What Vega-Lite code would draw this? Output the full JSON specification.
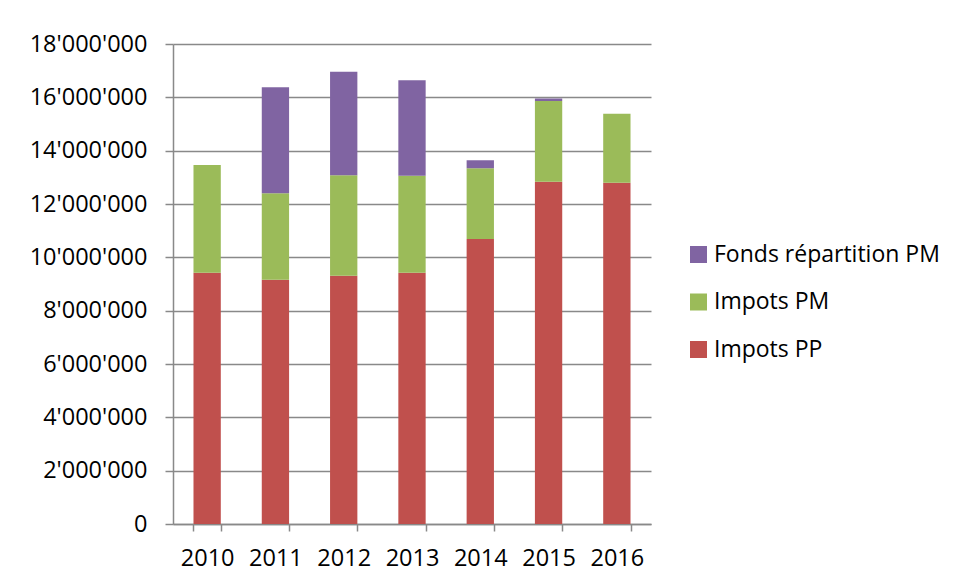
{
  "$schema": "https://vega.github.io/schema/vega-lite/v6.json",
  "autosize": "none",
  "width": 478,
  "height": 480,
  "padding": {"left": 173, "top": 44, "right": 305, "bottom": 59},
  "background": "white",
  "config": {
    "locale": {"number": {"decimal": ".", "thousands": "'", "grouping": [3], "currency": ["", ""]}},
    "font": "Open Sans",
    "view": {"stroke": null},
    "axis": {
      "labelFont": "Open Sans",
      "labelFontSize": 23.5,
      "labelColor": "#000000",
      "domainColor": "#898989",
      "domainWidth": 1.5,
      "tickColor": "#898989",
      "tickWidth": 1.5,
      "gridColor": "#898989",
      "gridWidth": 1.5,
      "title": null
    }
  },
  "data": {
    "values": [
      {"annee": "2010", "serie": "Impots PP", "montant": 9420000},
      {"annee": "2010", "serie": "Impots PM", "montant": 4040000},
      {"annee": "2011", "serie": "Impots PP", "montant": 9160000},
      {"annee": "2011", "serie": "Impots PM", "montant": 3240000},
      {"annee": "2011", "serie": "Fonds répartition PM", "montant": 3980000},
      {"annee": "2012", "serie": "Impots PP", "montant": 9310000},
      {"annee": "2012", "serie": "Impots PM", "montant": 3770000},
      {"annee": "2012", "serie": "Fonds répartition PM", "montant": 3880000},
      {"annee": "2013", "serie": "Impots PP", "montant": 9420000},
      {"annee": "2013", "serie": "Impots PM", "montant": 3640000},
      {"annee": "2013", "serie": "Fonds répartition PM", "montant": 3580000},
      {"annee": "2014", "serie": "Impots PP", "montant": 10690000},
      {"annee": "2014", "serie": "Impots PM", "montant": 2650000},
      {"annee": "2014", "serie": "Fonds répartition PM", "montant": 300000},
      {"annee": "2015", "serie": "Impots PP", "montant": 12830000},
      {"annee": "2015", "serie": "Impots PM", "montant": 3030000},
      {"annee": "2015", "serie": "Fonds répartition PM", "montant": 100000},
      {"annee": "2016", "serie": "Impots PP", "montant": 12800000},
      {"annee": "2016", "serie": "Impots PM", "montant": 2580000}
    ]
  },
  "mark": {"type": "bar", "strokeWidth": 0},
  "encoding": {
    "x": {
      "field": "annee",
      "type": "nominal",
      "scale": {"paddingInner": 0.6, "paddingOuter": 0.3},
      "axis": {"labelAngle": 0, "tickBand": "extent", "tickSize": 7, "labelPadding": 15, "grid": false}
    },
    "y": {
      "field": "montant",
      "type": "quantitative",
      "aggregate": "sum",
      "stack": "zero",
      "scale": {"domain": [0, 18000000], "nice": false},
      "axis": {"values": [0, 2000000, 4000000, 6000000, 8000000, 10000000, 12000000, 14000000, 16000000, 18000000], "format": ",d", "tickSize": 8, "labelPadding": 18, "grid": true}
    },
    "color": {
      "field": "serie",
      "type": "nominal",
      "scale": {"domain": ["Fonds répartition PM", "Impots PM", "Impots PP"], "range": ["#8064A2", "#9BBB59", "#C0504D"]},
      "legend": {
        "title": null,
        "orient": "none",
        "legendX": 514,
        "legendY": 199,
        "symbolType": "square",
        "symbolSize": 289,
        "symbolStrokeWidth": 0,
        "symbolOpacity": 1,
        "labelFont": "Open Sans",
        "labelFontSize": 23,
        "labelColor": "#000000",
        "labelOffset": 4,
        "rowPadding": 23.5,
        "labelLimit": 400
      }
    },
    "order": {"field": "serie", "sort": "descending"}
  }
}
